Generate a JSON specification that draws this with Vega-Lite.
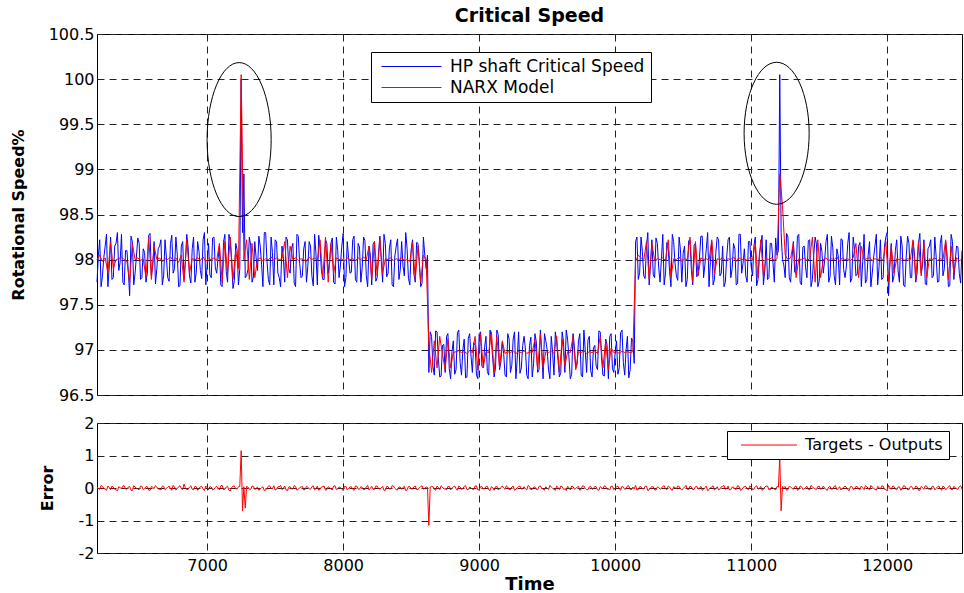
{
"$schema": "https://vega.github.io/schema/vega-lite/v6.json",
"padding": {"left": 9, "top": 6, "right": 0, "bottom": 0},
"background": "white",
"config": {
  "font": "DejaVu Sans",
  "view": {"stroke": "black", "strokeWidth": 1},
  "axis": {"labelFont": "DejaVu Sans", "labelFontSize": 16, "labelColor": "black", "grid": true, "gridColor": "#222222", "gridDash": [7, 5], "gridOpacity": 1, "gridWidth": 1, "domain": false, "ticks": false, "titleFont": "DejaVu Sans", "titleFontWeight": "bold", "titleFontSize": 16, "titleColor": "black", "labelPadding": 3},
  "legend": {"title": null, "symbolType": "M -4 0 L 4 0", "symbolStrokeWidth": 1, "labelFont": "DejaVu Sans", "labelFontSize": 16, "labelColor": "black", "labelLimit": 400, "strokeColor": "black", "fillColor": "white", "padding": 6, "rowPadding": 3}
},
"datasets": {"sig": [
{"t":6190,"hp":97.75,"narx":98.00,"e":0.02},
{"t":6210,"hp":98.22,"narx":98.05,"e":-0.04},
{"t":6230,"hp":97.82,"narx":97.98,"e":0.05},
{"t":6250,"hp":98.15,"narx":98.02,"e":-0.03},
{"t":6270,"hp":97.70,"narx":97.85,"e":0.06},
{"t":6290,"hp":98.25,"narx":98.20,"e":-0.05},
{"t":6310,"hp":97.80,"narx":97.90,"e":0.03},
{"t":6330,"hp":98.18,"narx":98.00,"e":-0.06},
{"t":6350,"hp":97.88,"narx":98.01,"e":0.04},
{"t":6370,"hp":98.28,"narx":98.03,"e":-0.02},
{"t":6390,"hp":97.72,"narx":98.00,"e":0.07},
{"t":6410,"hp":98.10,"narx":97.98,"e":-0.04},
{"t":6430,"hp":97.60,"narx":97.75,"e":0.05},
{"t":6450,"hp":98.20,"narx":98.18,"e":-0.08},
{"t":6470,"hp":97.85,"narx":98.00,"e":0.03},
{"t":6490,"hp":98.24,"narx":98.02,"e":-0.03},
{"t":6510,"hp":97.78,"narx":97.99,"e":0.06},
{"t":6530,"hp":98.12,"narx":98.01,"e":-0.05},
{"t":6550,"hp":97.75,"narx":97.80,"e":0.04},
{"t":6570,"hp":98.27,"narx":98.25,"e":-0.07},
{"t":6590,"hp":97.82,"narx":97.78,"e":0.05},
{"t":6610,"hp":98.20,"narx":98.15,"e":-0.02},
{"t":6630,"hp":97.90,"narx":98.00,"e":0.03},
{"t":6650,"hp":98.15,"narx":98.02,"e":-0.04},
{"t":6670,"hp":97.72,"narx":97.98,"e":0.06},
{"t":6690,"hp":98.22,"narx":98.01,"e":-0.05},
{"t":6710,"hp":97.80,"narx":98.00,"e":0.02},
{"t":6730,"hp":98.18,"narx":98.03,"e":-0.03},
{"t":6750,"hp":97.85,"narx":97.99,"e":0.08},
{"t":6770,"hp":98.25,"narx":98.02,"e":-0.06},
{"t":6790,"hp":97.70,"narx":97.97,"e":0.04},
{"t":6810,"hp":98.15,"narx":98.05,"e":-0.02},
{"t":6830,"hp":97.78,"narx":97.75,"e":0.12},
{"t":6850,"hp":98.28,"narx":98.22,"e":-0.05},
{"t":6870,"hp":97.82,"narx":97.85,"e":0.03},
{"t":6890,"hp":98.12,"narx":98.01,"e":-0.04},
{"t":6910,"hp":97.75,"narx":98.00,"e":0.05},
{"t":6930,"hp":98.20,"narx":98.02,"e":-0.07},
{"t":6950,"hp":97.88,"narx":97.99,"e":0.04},
{"t":6970,"hp":98.22,"narx":98.03,"e":-0.03},
{"t":6990,"hp":97.72,"narx":97.98,"e":0.06},
{"t":7010,"hp":98.18,"narx":98.01,"e":-0.05},
{"t":7030,"hp":97.80,"narx":98.00,"e":0.03},
{"t":7050,"hp":98.25,"narx":98.02,"e":-0.04},
{"t":7070,"hp":97.85,"narx":97.99,"e":0.05},
{"t":7090,"hp":98.15,"narx":98.18,"e":-0.06},
{"t":7110,"hp":97.70,"narx":97.75,"e":0.08},
{"t":7130,"hp":98.28,"narx":98.20,"e":-0.04},
{"t":7150,"hp":97.75,"narx":97.85,"e":0.05},
{"t":7170,"hp":98.20,"narx":98.25,"e":-0.09},
{"t":7190,"hp":97.68,"narx":97.78,"e":0.06},
{"t":7210,"hp":98.18,"narx":98.10,"e":-0.03},
{"t":7230,"hp":97.72,"narx":97.90,"e":0.04},
{"t":7250,"hp":100.00,"narx":100.05,"e":1.15},
{"t":7270,"hp":98.95,"narx":98.00,"e":0.04},
{"t":7290,"hp":97.82,"narx":98.22,"e":0.05},
{"t":7310,"hp":98.25,"narx":97.78,"e":-0.04},
{"t":7330,"hp":97.75,"narx":98.18,"e":0.06},
{"t":7350,"hp":98.20,"narx":97.80,"e":-0.05},
{"t":7370,"hp":97.88,"narx":98.00,"e":0.03},
{"t":7390,"hp":98.15,"narx":98.02,"e":-0.03},
{"t":7410,"hp":97.70,"narx":97.98,"e":0.04},
{"t":7430,"hp":98.30,"narx":98.01,"e":-0.06},
{"t":7450,"hp":97.78,"narx":98.00,"e":0.05},
{"t":7470,"hp":98.25,"narx":98.03,"e":-0.02},
{"t":7490,"hp":97.72,"narx":97.99,"e":0.07},
{"t":7510,"hp":98.20,"narx":98.02,"e":-0.04},
{"t":7530,"hp":97.80,"narx":98.00,"e":0.03},
{"t":7550,"hp":98.15,"narx":98.01,"e":-0.05},
{"t":7570,"hp":97.75,"narx":98.20,"e":0.06},
{"t":7590,"hp":98.22,"narx":97.80,"e":-0.08},
{"t":7610,"hp":97.85,"narx":98.15,"e":0.04},
{"t":7630,"hp":98.18,"narx":98.00,"e":-0.03},
{"t":7650,"hp":97.70,"narx":98.02,"e":0.05},
{"t":7670,"hp":98.26,"narx":97.99,"e":-0.04},
{"t":7690,"hp":97.80,"narx":98.01,"e":0.03},
{"t":7710,"hp":98.12,"narx":98.00,"e":-0.06},
{"t":7730,"hp":97.75,"narx":97.98,"e":0.05},
{"t":7750,"hp":98.20,"narx":98.03,"e":-0.02},
{"t":7770,"hp":97.82,"narx":98.00,"e":0.04},
{"t":7790,"hp":98.28,"narx":98.02,"e":-0.05},
{"t":7810,"hp":97.72,"narx":97.99,"e":0.06},
{"t":7830,"hp":98.15,"narx":98.22,"e":-0.04},
{"t":7850,"hp":97.78,"narx":97.80,"e":0.05},
{"t":7870,"hp":98.22,"narx":98.25,"e":-0.07},
{"t":7890,"hp":97.85,"narx":97.75,"e":0.04},
{"t":7910,"hp":98.18,"narx":98.18,"e":-0.03},
{"t":7930,"hp":97.75,"narx":97.85,"e":0.06},
{"t":7950,"hp":98.25,"narx":98.02,"e":-0.05},
{"t":7970,"hp":97.80,"narx":98.00,"e":0.03},
{"t":7990,"hp":98.15,"narx":98.01,"e":-0.04},
{"t":8010,"hp":97.70,"narx":97.98,"e":0.05},
{"t":8030,"hp":98.20,"narx":98.02,"e":-0.06},
{"t":8050,"hp":97.85,"narx":98.00,"e":0.03},
{"t":8070,"hp":98.22,"narx":98.01,"e":-0.04},
{"t":8090,"hp":97.78,"narx":97.99,"e":0.06},
{"t":8110,"hp":98.18,"narx":98.02,"e":-0.03},
{"t":8130,"hp":97.75,"narx":98.00,"e":0.04},
{"t":8150,"hp":98.25,"narx":98.03,"e":-0.05},
{"t":8170,"hp":97.82,"narx":98.00,"e":0.03},
{"t":8190,"hp":98.15,"narx":98.15,"e":-0.06},
{"t":8210,"hp":97.72,"narx":97.78,"e":0.05},
{"t":8230,"hp":98.20,"narx":98.20,"e":-0.04},
{"t":8250,"hp":97.80,"narx":97.82,"e":0.06},
{"t":8270,"hp":98.26,"narx":98.22,"e":-0.03},
{"t":8290,"hp":97.75,"narx":97.85,"e":0.05},
{"t":8310,"hp":98.18,"narx":98.01,"e":-0.07},
{"t":8330,"hp":97.85,"narx":98.00,"e":0.04},
{"t":8350,"hp":98.22,"narx":98.02,"e":-0.03},
{"t":8370,"hp":97.70,"narx":97.99,"e":0.06},
{"t":8390,"hp":98.15,"narx":98.01,"e":-0.05},
{"t":8410,"hp":97.78,"narx":98.00,"e":0.03},
{"t":8430,"hp":98.20,"narx":98.02,"e":-0.04},
{"t":8450,"hp":97.82,"narx":97.99,"e":0.05},
{"t":8470,"hp":98.12,"narx":98.00,"e":-0.06},
{"t":8490,"hp":97.72,"narx":97.98,"e":0.04},
{"t":8510,"hp":98.22,"narx":98.20,"e":-0.03},
{"t":8530,"hp":97.75,"narx":97.78,"e":0.06},
{"t":8550,"hp":98.18,"narx":98.15,"e":-0.05},
{"t":8570,"hp":97.70,"narx":97.75,"e":0.04},
{"t":8590,"hp":98.25,"narx":98.05,"e":-0.04},
{"t":8610,"hp":97.90,"narx":98.00,"e":0.03},
{"t":8630,"hp":96.75,"narx":97.05,"e":-1.15},
{"t":8650,"hp":97.15,"narx":96.75,"e":0.05},
{"t":8670,"hp":96.72,"narx":97.10,"e":-0.04},
{"t":8690,"hp":97.20,"narx":96.80,"e":0.06},
{"t":8710,"hp":96.70,"narx":97.15,"e":-0.05},
{"t":8730,"hp":97.05,"narx":96.95,"e":0.03},
{"t":8750,"hp":96.75,"narx":96.78,"e":-0.03},
{"t":8770,"hp":97.18,"narx":97.12,"e":0.05},
{"t":8790,"hp":96.68,"narx":96.80,"e":-0.06},
{"t":8810,"hp":97.10,"narx":96.97,"e":0.04},
{"t":8830,"hp":96.78,"narx":96.98,"e":-0.02},
{"t":8850,"hp":97.22,"narx":96.99,"e":0.06},
{"t":8870,"hp":96.72,"narx":96.97,"e":-0.04},
{"t":8890,"hp":97.12,"narx":96.98,"e":0.05},
{"t":8910,"hp":96.70,"narx":96.96,"e":-0.05},
{"t":8930,"hp":97.18,"narx":96.99,"e":0.03},
{"t":8950,"hp":96.75,"narx":96.97,"e":-0.04},
{"t":8970,"hp":97.05,"narx":97.15,"e":0.06},
{"t":8990,"hp":96.68,"narx":96.78,"e":-0.06},
{"t":9010,"hp":97.20,"narx":97.18,"e":0.04},
{"t":9030,"hp":96.80,"narx":96.80,"e":-0.03},
{"t":9050,"hp":97.15,"narx":96.98,"e":0.05},
{"t":9070,"hp":96.72,"narx":96.97,"e":-0.05},
{"t":9090,"hp":97.10,"narx":97.20,"e":0.04},
{"t":9110,"hp":96.70,"narx":96.75,"e":-0.07},
{"t":9130,"hp":97.22,"narx":97.15,"e":0.05},
{"t":9150,"hp":96.78,"narx":96.80,"e":-0.03},
{"t":9170,"hp":97.08,"narx":97.10,"e":0.06},
{"t":9190,"hp":96.72,"narx":96.96,"e":-0.04},
{"t":9210,"hp":97.18,"narx":96.98,"e":0.03},
{"t":9230,"hp":96.75,"narx":96.97,"e":-0.05},
{"t":9250,"hp":97.12,"narx":96.99,"e":0.06},
{"t":9270,"hp":96.68,"narx":96.96,"e":-0.04},
{"t":9290,"hp":97.20,"narx":96.98,"e":0.05},
{"t":9310,"hp":96.80,"narx":96.97,"e":-0.03},
{"t":9330,"hp":97.15,"narx":96.99,"e":0.04},
{"t":9350,"hp":96.72,"narx":96.96,"e":-0.06},
{"t":9370,"hp":97.05,"narx":96.98,"e":0.05},
{"t":9390,"hp":96.70,"narx":96.97,"e":-0.04},
{"t":9410,"hp":97.18,"narx":97.12,"e":0.03},
{"t":9430,"hp":96.75,"narx":96.78,"e":-0.05},
{"t":9450,"hp":97.22,"narx":97.18,"e":0.06},
{"t":9470,"hp":96.68,"narx":96.80,"e":-0.03},
{"t":9490,"hp":97.10,"narx":96.98,"e":0.04},
{"t":9510,"hp":96.78,"narx":96.97,"e":-0.05},
{"t":9530,"hp":97.15,"narx":96.99,"e":0.03},
{"t":9550,"hp":96.72,"narx":96.96,"e":-0.04},
{"t":9570,"hp":97.08,"narx":97.15,"e":0.06},
{"t":9590,"hp":96.70,"narx":96.75,"e":-0.05},
{"t":9610,"hp":97.20,"narx":97.12,"e":0.04},
{"t":9630,"hp":96.75,"narx":96.82,"e":-0.03},
{"t":9650,"hp":97.12,"narx":96.98,"e":0.05},
{"t":9670,"hp":96.68,"narx":96.97,"e":-0.06},
{"t":9690,"hp":97.18,"narx":97.15,"e":0.04},
{"t":9710,"hp":96.80,"narx":96.78,"e":-0.02},
{"t":9730,"hp":97.10,"narx":96.98,"e":0.05},
{"t":9750,"hp":96.72,"narx":96.97,"e":-0.04},
{"t":9770,"hp":97.22,"narx":96.99,"e":0.06},
{"t":9790,"hp":96.75,"narx":96.96,"e":-0.05},
{"t":9810,"hp":97.15,"narx":96.98,"e":0.03},
{"t":9830,"hp":96.70,"narx":96.97,"e":-0.04},
{"t":9850,"hp":97.05,"narx":96.99,"e":0.05},
{"t":9870,"hp":96.78,"narx":96.96,"e":-0.06},
{"t":9890,"hp":97.20,"narx":97.15,"e":0.04},
{"t":9910,"hp":96.72,"narx":96.80,"e":-0.03},
{"t":9930,"hp":97.12,"narx":97.10,"e":0.05},
{"t":9950,"hp":96.68,"narx":96.78,"e":-0.04},
{"t":9970,"hp":97.18,"narx":97.02,"e":0.06},
{"t":9990,"hp":96.75,"narx":96.97,"e":-0.05},
{"t":10010,"hp":97.10,"narx":96.98,"e":0.04},
{"t":10030,"hp":96.80,"narx":96.96,"e":-0.03},
{"t":10050,"hp":97.22,"narx":96.99,"e":0.05},
{"t":10070,"hp":96.72,"narx":96.97,"e":-0.04},
{"t":10090,"hp":97.15,"narx":96.98,"e":0.06},
{"t":10110,"hp":96.78,"narx":96.97,"e":-0.05},
{"t":10130,"hp":97.10,"narx":96.98,"e":0.03},
{"t":10150,"hp":98.20,"narx":97.98,"e":0.08},
{"t":10170,"hp":97.78,"narx":98.05,"e":-0.05},
{"t":10190,"hp":98.25,"narx":98.02,"e":0.04},
{"t":10210,"hp":97.82,"narx":97.99,"e":-0.03},
{"t":10230,"hp":98.15,"narx":98.20,"e":0.06},
{"t":10250,"hp":97.72,"narx":97.78,"e":-0.05},
{"t":10270,"hp":98.22,"narx":98.18,"e":0.04},
{"t":10290,"hp":97.80,"narx":97.99,"e":-0.06},
{"t":10310,"hp":98.18,"narx":98.01,"e":0.03},
{"t":10330,"hp":97.75,"narx":98.00,"e":-0.04},
{"t":10350,"hp":98.28,"narx":98.02,"e":0.05},
{"t":10370,"hp":97.85,"narx":97.99,"e":-0.03},
{"t":10390,"hp":98.12,"narx":98.22,"e":0.06},
{"t":10410,"hp":97.70,"narx":97.80,"e":-0.05},
{"t":10430,"hp":98.20,"narx":98.01,"e":0.04},
{"t":10450,"hp":97.82,"narx":98.00,"e":-0.02},
{"t":10470,"hp":98.25,"narx":98.03,"e":0.05},
{"t":10490,"hp":97.75,"narx":97.98,"e":-0.06},
{"t":10510,"hp":98.15,"narx":98.01,"e":0.03},
{"t":10530,"hp":97.78,"narx":98.00,"e":-0.04},
{"t":10550,"hp":98.22,"narx":98.25,"e":0.06},
{"t":10570,"hp":97.72,"narx":97.75,"e":-0.05},
{"t":10590,"hp":98.18,"narx":98.20,"e":0.04},
{"t":10610,"hp":97.85,"narx":97.82,"e":-0.03},
{"t":10630,"hp":98.26,"narx":98.02,"e":0.05},
{"t":10650,"hp":97.80,"narx":98.00,"e":-0.04},
{"t":10670,"hp":98.12,"narx":98.01,"e":0.06},
{"t":10690,"hp":97.70,"narx":97.99,"e":-0.05},
{"t":10710,"hp":98.20,"narx":98.22,"e":0.03},
{"t":10730,"hp":97.78,"narx":97.85,"e":-0.06},
{"t":10750,"hp":98.25,"narx":98.01,"e":0.04},
{"t":10770,"hp":97.82,"narx":98.00,"e":-0.03},
{"t":10790,"hp":98.15,"narx":98.02,"e":0.05},
{"t":10810,"hp":97.75,"narx":97.99,"e":-0.04},
{"t":10830,"hp":98.22,"narx":98.01,"e":0.06},
{"t":10850,"hp":97.80,"narx":98.00,"e":-0.05},
{"t":10870,"hp":98.18,"narx":98.03,"e":0.03},
{"t":10890,"hp":97.72,"narx":97.98,"e":-0.04},
{"t":10910,"hp":98.28,"narx":98.02,"e":0.05},
{"t":10930,"hp":97.85,"narx":98.00,"e":-0.06},
{"t":10950,"hp":98.12,"narx":98.01,"e":0.04},
{"t":10970,"hp":97.75,"narx":97.99,"e":-0.03},
{"t":10990,"hp":98.20,"narx":98.02,"e":0.06},
{"t":11010,"hp":97.82,"narx":98.00,"e":-0.05},
{"t":11030,"hp":98.25,"narx":98.18,"e":0.04},
{"t":11050,"hp":97.78,"narx":97.80,"e":-0.03},
{"t":11070,"hp":98.15,"narx":98.22,"e":0.05},
{"t":11090,"hp":97.72,"narx":97.82,"e":-0.04},
{"t":11110,"hp":98.22,"narx":98.01,"e":0.06},
{"t":11130,"hp":97.80,"narx":98.00,"e":-0.05},
{"t":11150,"hp":98.18,"narx":98.02,"e":0.03},
{"t":11170,"hp":97.75,"narx":97.99,"e":-0.04},
{"t":11190,"hp":98.05,"narx":98.01,"e":0.05},
{"t":11210,"hp":100.05,"narx":98.95,"e":0.95},
{"t":11230,"hp":98.00,"narx":98.60,"e":0.04},
{"t":11250,"hp":97.80,"narx":98.05,"e":0.04},
{"t":11270,"hp":98.25,"narx":98.00,"e":-0.05},
{"t":11290,"hp":97.75,"narx":98.02,"e":0.03},
{"t":11310,"hp":98.20,"narx":98.18,"e":-0.04},
{"t":11330,"hp":97.85,"narx":97.80,"e":0.06},
{"t":11350,"hp":98.28,"narx":98.01,"e":-0.05},
{"t":11370,"hp":97.72,"narx":98.00,"e":0.04},
{"t":11390,"hp":98.15,"narx":98.02,"e":-0.03},
{"t":11410,"hp":97.80,"narx":97.99,"e":0.05},
{"t":11430,"hp":98.22,"narx":98.01,"e":-0.06},
{"t":11450,"hp":97.78,"narx":98.25,"e":0.04},
{"t":11470,"hp":98.25,"narx":97.75,"e":-0.03},
{"t":11490,"hp":97.70,"narx":98.22,"e":0.05},
{"t":11510,"hp":98.18,"narx":97.80,"e":-0.04},
{"t":11530,"hp":97.85,"narx":98.00,"e":0.06},
{"t":11550,"hp":98.20,"narx":98.02,"e":-0.05},
{"t":11570,"hp":97.75,"narx":97.99,"e":0.03},
{"t":11590,"hp":98.26,"narx":98.01,"e":-0.04},
{"t":11610,"hp":97.82,"narx":98.00,"e":0.05},
{"t":11630,"hp":98.12,"narx":98.03,"e":-0.06},
{"t":11650,"hp":97.72,"narx":97.98,"e":0.04},
{"t":11670,"hp":98.22,"narx":98.02,"e":-0.03},
{"t":11690,"hp":97.80,"narx":98.00,"e":0.06},
{"t":11710,"hp":98.18,"narx":98.01,"e":-0.05},
{"t":11730,"hp":97.75,"narx":97.99,"e":0.04},
{"t":11750,"hp":98.25,"narx":98.02,"e":-0.04},
{"t":11770,"hp":97.82,"narx":98.18,"e":0.05},
{"t":11790,"hp":98.15,"narx":97.80,"e":-0.03},
{"t":11810,"hp":97.70,"narx":98.15,"e":0.06},
{"t":11830,"hp":98.28,"narx":98.00,"e":-0.05},
{"t":11850,"hp":97.78,"narx":98.01,"e":0.04},
{"t":11870,"hp":98.20,"narx":98.02,"e":-0.06},
{"t":11890,"hp":97.85,"narx":97.99,"e":0.03},
{"t":11910,"hp":98.15,"narx":98.01,"e":-0.04},
{"t":11930,"hp":97.72,"narx":98.00,"e":0.05},
{"t":11950,"hp":98.22,"narx":98.02,"e":-0.03},
{"t":11970,"hp":97.80,"narx":97.99,"e":0.06},
{"t":11990,"hp":98.25,"narx":98.20,"e":-0.05},
{"t":12010,"hp":97.60,"narx":97.75,"e":0.08},
{"t":12030,"hp":98.18,"narx":98.15,"e":-0.04},
{"t":12050,"hp":97.82,"narx":97.85,"e":0.05},
{"t":12070,"hp":98.22,"narx":98.01,"e":-0.06},
{"t":12090,"hp":97.75,"narx":98.00,"e":0.04},
{"t":12110,"hp":98.15,"narx":98.02,"e":-0.03},
{"t":12130,"hp":97.70,"narx":97.99,"e":0.06},
{"t":12150,"hp":98.26,"narx":98.01,"e":-0.05},
{"t":12170,"hp":97.80,"narx":98.00,"e":0.04},
{"t":12190,"hp":98.20,"narx":98.22,"e":-0.04},
{"t":12210,"hp":97.75,"narx":97.78,"e":0.06},
{"t":12230,"hp":98.18,"narx":98.20,"e":-0.07},
{"t":12250,"hp":97.85,"narx":97.82,"e":0.05},
{"t":12270,"hp":98.22,"narx":98.18,"e":-0.04},
{"t":12290,"hp":97.72,"narx":97.80,"e":0.06},
{"t":12310,"hp":98.15,"narx":98.01,"e":-0.03},
{"t":12330,"hp":97.80,"narx":98.00,"e":0.05},
{"t":12350,"hp":98.25,"narx":98.02,"e":-0.06},
{"t":12370,"hp":97.75,"narx":97.99,"e":0.04},
{"t":12390,"hp":98.18,"narx":98.01,"e":-0.03},
{"t":12410,"hp":97.82,"narx":98.00,"e":0.06},
{"t":12430,"hp":98.20,"narx":98.22,"e":-0.05},
{"t":12450,"hp":97.70,"narx":97.78,"e":0.04},
{"t":12470,"hp":98.28,"narx":98.15,"e":-0.04},
{"t":12490,"hp":97.78,"narx":97.85,"e":0.05},
{"t":12510,"hp":98.15,"narx":98.02,"e":-0.03},
{"t":12530,"hp":97.85,"narx":97.99,"e":0.04},
{"t":12550,"hp":98.10,"narx":98.00,"e":-0.02},
{"t":6200,"hp":98.05,"e":-0.01},{"t":6220,"hp":97.70,"e":0.08},{"t":6240,"hp":98.02,"e":-0.01},{"t":6260,"hp":98.28,"e":-0.07},
{"t":6280,"hp":97.92,"e":0.02},{"t":6300,"hp":97.78,"e":0.06},{"t":6320,"hp":98.15,"e":-0.04},{"t":6340,"hp":98.30,"e":-0.08},
{"t":6360,"hp":97.97,"e":0.01},{"t":6380,"hp":97.75,"e":0.06},{"t":6400,"hp":98.10,"e":-0.03},{"t":6420,"hp":97.88,"e":0.03},
{"t":6440,"hp":98.26,"e":-0.07},{"t":6460,"hp":97.72,"e":0.07},{"t":6480,"hp":98.04,"e":-0.01},{"t":6500,"hp":98.18,"e":-0.05},
{"t":6520,"hp":97.80,"e":0.05},{"t":6540,"hp":98.08,"e":-0.02},{"t":6560,"hp":97.85,"e":0.04},{"t":6580,"hp":98.29,"e":-0.07},
{"t":6600,"hp":97.94,"e":0.02},{"t":6620,"hp":97.73,"e":0.07},{"t":6640,"hp":98.12,"e":-0.03},{"t":6660,"hp":98.22,"e":-0.06},
{"t":6680,"hp":97.82,"e":0.05},{"t":6700,"hp":98.03,"e":-0.01},{"t":6720,"hp":97.76,"e":0.06},{"t":6740,"hp":98.27,"e":-0.07},
{"t":6760,"hp":97.90,"e":0.03},{"t":6780,"hp":98.06,"e":-0.02},{"t":6800,"hp":97.71,"e":0.07},{"t":6820,"hp":98.20,"e":-0.05},
{"t":6840,"hp":97.98,"e":0.01},{"t":6860,"hp":98.14,"e":-0.04},{"t":6880,"hp":97.74,"e":0.07},{"t":6900,"hp":98.25,"e":-0.06},
{"t":6920,"hp":97.86,"e":0.04},{"t":6940,"hp":98.09,"e":-0.02},{"t":6960,"hp":97.79,"e":0.05},{"t":6980,"hp":98.30,"e":-0.08},
{"t":7000,"hp":97.95,"e":0.01},{"t":7020,"hp":97.83,"e":0.04},{"t":7040,"hp":98.24,"e":-0.06},{"t":7060,"hp":97.91,"e":0.02},
{"t":7080,"hp":98.01,"e":0.00},{"t":7100,"hp":97.72,"e":0.07},{"t":7120,"hp":98.19,"e":-0.05},{"t":7140,"hp":97.87,"e":0.03},
{"t":7160,"hp":98.28,"e":-0.07},{"t":7180,"hp":97.96,"e":0.01},{"t":7200,"hp":97.77,"e":0.06},{"t":7220,"hp":98.11,"e":-0.03},
{"t":7240,"hp":97.90,"e":0.05},{"t":7260,"hp":98.30,"e":-0.70},{"t":7280,"hp":97.80,"e":-0.62},{"t":7300,"hp":97.89,"e":0.03},
{"t":7320,"hp":98.16,"e":-0.04},{"t":7340,"hp":97.81,"e":0.05},{"t":7360,"hp":98.02,"e":-0.01},{"t":7380,"hp":98.26,"e":-0.07},
{"t":7400,"hp":97.95,"e":0.01},{"t":7420,"hp":98.30,"e":-0.08},{"t":7440,"hp":97.98,"e":0.01},{"t":7460,"hp":97.72,"e":0.07},
{"t":7480,"hp":98.08,"e":-0.02},{"t":7500,"hp":98.22,"e":-0.06},{"t":7520,"hp":97.85,"e":0.04},{"t":7540,"hp":97.70,"e":0.08},
{"t":7560,"hp":98.03,"e":-0.01},{"t":7580,"hp":98.25,"e":-0.06},{"t":7600,"hp":97.90,"e":0.03},{"t":7620,"hp":98.12,"e":-0.03},
{"t":7640,"hp":97.74,"e":0.07},{"t":7660,"hp":98.28,"e":-0.07},{"t":7680,"hp":97.96,"e":0.01},{"t":7700,"hp":97.82,"e":0.05},
{"t":7720,"hp":98.20,"e":-0.05},{"t":7740,"hp":97.92,"e":0.02},{"t":7760,"hp":98.15,"e":-0.04},{"t":7780,"hp":97.71,"e":0.07},
{"t":7800,"hp":98.06,"e":-0.02},{"t":7820,"hp":98.27,"e":-0.07},{"t":7840,"hp":97.88,"e":0.03},{"t":7860,"hp":97.78,"e":0.06},
{"t":7880,"hp":98.18,"e":-0.05},{"t":7900,"hp":97.97,"e":0.01},{"t":7920,"hp":98.24,"e":-0.06},{"t":7940,"hp":97.73,"e":0.07},
{"t":7960,"hp":98.10,"e":-0.03},{"t":7980,"hp":97.94,"e":0.02},{"t":8000,"hp":98.29,"e":-0.07},{"t":8020,"hp":97.80,"e":0.05},
{"t":8040,"hp":98.02,"e":-0.01},{"t":8060,"hp":97.86,"e":0.04},{"t":8080,"hp":98.26,"e":-0.07},{"t":8100,"hp":97.75,"e":0.06},
{"t":8120,"hp":98.14,"e":-0.04},{"t":8140,"hp":97.91,"e":0.02},{"t":8160,"hp":98.21,"e":-0.05},{"t":8180,"hp":97.70,"e":0.08},
{"t":8200,"hp":98.05,"e":-0.01},{"t":8220,"hp":98.17,"e":-0.04},{"t":8240,"hp":97.76,"e":0.06},{"t":8260,"hp":98.09,"e":-0.02},
{"t":8280,"hp":97.99,"e":0.00},{"t":8300,"hp":98.28,"e":-0.07},{"t":8320,"hp":97.81,"e":0.05},{"t":8340,"hp":98.13,"e":-0.03},
{"t":8360,"hp":97.72,"e":0.07},{"t":8380,"hp":98.04,"e":-0.01},{"t":8400,"hp":98.23,"e":-0.06},{"t":8420,"hp":97.89,"e":0.03},
{"t":8440,"hp":97.93,"e":0.02},{"t":8460,"hp":98.30,"e":-0.08},{"t":8480,"hp":97.79,"e":0.05},{"t":8500,"hp":98.11,"e":-0.03},
{"t":8520,"hp":97.84,"e":0.04},{"t":8540,"hp":98.19,"e":-0.05},{"t":8560,"hp":97.98,"e":0.01},{"t":8580,"hp":97.74,"e":0.07},
{"t":8600,"hp":98.05,"e":-0.01},{"t":8620,"hp":98.05,"e":0.02},{"t":8640,"hp":97.20,"e":0.03},{"t":8660,"hp":96.82,"e":0.04},
{"t":8680,"hp":97.21,"e":-0.07},{"t":8700,"hp":96.90,"e":0.02},{"t":8720,"hp":96.71,"e":0.07},{"t":8740,"hp":97.06,"e":-0.03},
{"t":8760,"hp":97.15,"e":-0.06},{"t":8780,"hp":96.79,"e":0.05},{"t":8800,"hp":96.98,"e":-0.01},{"t":8820,"hp":96.73,"e":0.06},
{"t":8840,"hp":97.19,"e":-0.07},{"t":8860,"hp":96.86,"e":0.03},{"t":8880,"hp":97.00,"e":-0.02},{"t":8900,"hp":96.69,"e":0.07},
{"t":8920,"hp":97.13,"e":-0.05},{"t":8940,"hp":96.93,"e":0.01},{"t":8960,"hp":97.08,"e":-0.04},{"t":8980,"hp":96.72,"e":0.07},
{"t":9000,"hp":97.18,"e":-0.06},{"t":9020,"hp":96.82,"e":0.04},{"t":9040,"hp":97.03,"e":-0.02},{"t":9060,"hp":96.76,"e":0.05},
{"t":9080,"hp":97.22,"e":-0.08},{"t":9100,"hp":96.90,"e":0.01},{"t":9120,"hp":96.80,"e":0.04},{"t":9140,"hp":97.17,"e":-0.06},
{"t":9160,"hp":96.87,"e":0.02},{"t":9180,"hp":96.96,"e":0.00},{"t":9200,"hp":96.70,"e":0.07},{"t":9220,"hp":97.12,"e":-0.05},
{"t":9240,"hp":96.83,"e":0.03},{"t":9260,"hp":97.20,"e":-0.07},{"t":9280,"hp":96.91,"e":0.01},{"t":9300,"hp":96.74,"e":0.06},
{"t":9320,"hp":97.05,"e":-0.03},{"t":9340,"hp":97.01,"e":-0.02},{"t":9360,"hp":96.68,"e":0.08},{"t":9380,"hp":97.14,"e":-0.05},
{"t":9400,"hp":96.85,"e":0.03},{"t":9420,"hp":97.09,"e":-0.04},{"t":9440,"hp":96.78,"e":0.05},{"t":9460,"hp":96.97,"e":-0.01},
{"t":9480,"hp":97.18,"e":-0.07},{"t":9500,"hp":97.00,"e":-0.01},{"t":9520,"hp":96.68,"e":0.08},{"t":9540,"hp":96.97,"e":-0.01},
{"t":9560,"hp":97.20,"e":-0.07},{"t":9580,"hp":96.88,"e":0.02},{"t":9600,"hp":96.75,"e":0.06},{"t":9620,"hp":97.09,"e":-0.04},
{"t":9640,"hp":97.22,"e":-0.08},{"t":9660,"hp":96.92,"e":0.01},{"t":9680,"hp":96.73,"e":0.06},{"t":9700,"hp":97.04,"e":-0.03},
{"t":9720,"hp":96.84,"e":0.03},{"t":9740,"hp":97.18,"e":-0.07},{"t":9760,"hp":96.70,"e":0.07},{"t":9780,"hp":96.99,"e":-0.01},
{"t":9800,"hp":97.11,"e":-0.05},{"t":9820,"hp":96.77,"e":0.05},{"t":9840,"hp":97.02,"e":-0.02},{"t":9860,"hp":96.82,"e":0.04},
{"t":9880,"hp":97.21,"e":-0.07},{"t":9900,"hp":96.90,"e":0.02},{"t":9920,"hp":96.71,"e":0.07},{"t":9940,"hp":97.06,"e":-0.03},
{"t":9960,"hp":97.15,"e":-0.06},{"t":9980,"hp":96.79,"e":0.05},{"t":10000,"hp":96.98,"e":-0.01},{"t":10020,"hp":96.73,"e":0.06},
{"t":10040,"hp":97.19,"e":-0.07},{"t":10060,"hp":96.86,"e":0.03},{"t":10080,"hp":97.00,"e":-0.02},{"t":10100,"hp":96.69,"e":0.07},
{"t":10120,"hp":97.13,"e":-0.05},{"t":10140,"hp":96.85,"e":-0.03},{"t":10160,"hp":98.25,"e":-0.06},{"t":10180,"hp":97.86,"e":0.04},
{"t":10200,"hp":98.09,"e":-0.02},{"t":10220,"hp":97.79,"e":0.05},{"t":10240,"hp":98.30,"e":-0.08},{"t":10260,"hp":97.95,"e":0.01},
{"t":10280,"hp":97.83,"e":0.04},{"t":10300,"hp":98.24,"e":-0.06},{"t":10320,"hp":97.91,"e":0.02},{"t":10340,"hp":98.01,"e":0.00},
{"t":10360,"hp":97.72,"e":0.07},{"t":10380,"hp":98.19,"e":-0.05},{"t":10400,"hp":97.87,"e":0.03},{"t":10420,"hp":98.28,"e":-0.07},
{"t":10440,"hp":97.96,"e":0.01},{"t":10460,"hp":97.77,"e":0.06},{"t":10480,"hp":98.11,"e":-0.03},{"t":10500,"hp":98.07,"e":-0.02},
{"t":10520,"hp":97.70,"e":0.08},{"t":10540,"hp":98.21,"e":-0.05},{"t":10560,"hp":97.89,"e":0.03},{"t":10580,"hp":98.16,"e":-0.04},
{"t":10600,"hp":97.81,"e":0.05},{"t":10620,"hp":98.02,"e":-0.01},{"t":10640,"hp":98.26,"e":-0.07},{"t":10660,"hp":97.95,"e":0.01},
{"t":10680,"hp":98.30,"e":-0.08},{"t":10700,"hp":97.98,"e":0.01},{"t":10720,"hp":97.72,"e":0.07},{"t":10740,"hp":98.08,"e":-0.02},
{"t":10760,"hp":98.22,"e":-0.06},{"t":10780,"hp":97.85,"e":0.04},{"t":10800,"hp":97.70,"e":0.08},{"t":10820,"hp":98.03,"e":-0.01},
{"t":10840,"hp":98.25,"e":-0.06},{"t":10860,"hp":97.90,"e":0.03},{"t":10880,"hp":98.12,"e":-0.03},{"t":10900,"hp":97.74,"e":0.07},
{"t":10920,"hp":98.28,"e":-0.07},{"t":10940,"hp":97.96,"e":0.01},{"t":10960,"hp":97.82,"e":0.05},{"t":10980,"hp":98.20,"e":-0.05},
{"t":11000,"hp":97.92,"e":0.02},{"t":11020,"hp":98.15,"e":-0.04},{"t":11040,"hp":97.71,"e":0.07},{"t":11060,"hp":98.06,"e":-0.02},
{"t":11080,"hp":98.27,"e":-0.07},{"t":11100,"hp":97.88,"e":0.03},{"t":11120,"hp":97.78,"e":0.06},{"t":11140,"hp":98.18,"e":-0.05},
{"t":11160,"hp":97.97,"e":0.01},{"t":11180,"hp":98.24,"e":-0.06},{"t":11200,"hp":98.10,"e":0.02},{"t":11220,"hp":98.30,"e":-0.70},
{"t":11240,"hp":97.94,"e":0.02},{"t":11260,"hp":98.29,"e":-0.07},{"t":11280,"hp":97.80,"e":0.05},{"t":11300,"hp":98.02,"e":-0.01},
{"t":11320,"hp":97.86,"e":0.04},{"t":11340,"hp":98.26,"e":-0.07},{"t":11360,"hp":97.75,"e":0.06},{"t":11380,"hp":98.14,"e":-0.04},
{"t":11400,"hp":97.91,"e":0.02},{"t":11420,"hp":98.21,"e":-0.05},{"t":11440,"hp":97.70,"e":0.08},{"t":11460,"hp":98.05,"e":-0.01},
{"t":11480,"hp":98.17,"e":-0.04},{"t":11500,"hp":97.76,"e":0.06},{"t":11520,"hp":98.09,"e":-0.02},{"t":11540,"hp":97.99,"e":0.00},
{"t":11560,"hp":98.28,"e":-0.07},{"t":11580,"hp":97.81,"e":0.05},{"t":11600,"hp":98.13,"e":-0.03},{"t":11620,"hp":97.72,"e":0.07},
{"t":11640,"hp":98.04,"e":-0.01},{"t":11660,"hp":98.23,"e":-0.06},{"t":11680,"hp":97.89,"e":0.03},{"t":11700,"hp":97.93,"e":0.02},
{"t":11720,"hp":98.30,"e":-0.08},{"t":11740,"hp":97.79,"e":0.05},{"t":11760,"hp":98.11,"e":-0.03},{"t":11780,"hp":97.84,"e":0.04},
{"t":11800,"hp":98.19,"e":-0.05},{"t":11820,"hp":97.98,"e":0.01},{"t":11840,"hp":97.74,"e":0.07},{"t":11860,"hp":98.05,"e":-0.01},
{"t":11880,"hp":97.70,"e":0.08},{"t":11900,"hp":98.02,"e":-0.01},{"t":11920,"hp":98.28,"e":-0.07},{"t":11940,"hp":97.92,"e":0.02},
{"t":11960,"hp":97.78,"e":0.06},{"t":11980,"hp":98.15,"e":-0.04},{"t":12000,"hp":98.30,"e":-0.08},{"t":12020,"hp":97.97,"e":0.01},
{"t":12040,"hp":97.75,"e":0.06},{"t":12060,"hp":98.10,"e":-0.03},{"t":12080,"hp":97.88,"e":0.03},{"t":12100,"hp":98.26,"e":-0.07},
{"t":12120,"hp":97.72,"e":0.07},{"t":12140,"hp":98.04,"e":-0.01},{"t":12160,"hp":98.18,"e":-0.05},{"t":12180,"hp":97.80,"e":0.05},
{"t":12200,"hp":98.08,"e":-0.02},{"t":12220,"hp":97.85,"e":0.04},{"t":12240,"hp":98.29,"e":-0.07},{"t":12260,"hp":97.94,"e":0.02},
{"t":12280,"hp":97.73,"e":0.07},{"t":12300,"hp":98.12,"e":-0.03},{"t":12320,"hp":98.22,"e":-0.06},{"t":12340,"hp":97.82,"e":0.05},
{"t":12360,"hp":98.03,"e":-0.01},{"t":12380,"hp":97.76,"e":0.06},{"t":12400,"hp":98.27,"e":-0.07},{"t":12420,"hp":97.90,"e":0.03},
{"t":12440,"hp":98.06,"e":-0.02},{"t":12460,"hp":97.71,"e":0.07},{"t":12480,"hp":98.20,"e":-0.05},{"t":12500,"hp":97.98,"e":0.01},
{"t":12520,"hp":98.14,"e":-0.04},{"t":12540,"hp":97.74,"e":0.07}
]},
"spacing": 10,
"resolve": {"scale": {"color": "independent"}, "legend": {"color": "independent"}},
"vconcat": [
  {
    "width": 865,
    "height": 361,
    "title": {"text": "Critical Speed", "fontSize": 19, "fontWeight": "bold", "font": "DejaVu Sans", "color": "black", "anchor": "middle", "frame": "group", "offset": 0},
    "data": {"name": "sig"},
    "layer": [
      {
        "mark": {"type": "line", "strokeWidth": 1, "invalid": "filter"},
        "encoding": {
          "x": {"field": "t", "type": "quantitative", "scale": {"domain": [6190, 12550], "nice": false, "zero": false}, "axis": {"values": [7000, 8000, 9000, 10000, 11000, 12000], "labels": false, "title": null}},
          "y": {"field": "hp", "type": "quantitative", "scale": {"domain": [96.5, 100.5], "nice": false, "zero": false}, "axis": {"values": [96.5, 97, 97.5, 98, 98.5, 99, 99.5, 100, 100.5], "format": "~g", "title": "Rotational Speed%", "titlePadding": 22}},
          "color": {"datum": "HP shaft Critical Speed", "type": "nominal", "scale": {"domain": ["HP shaft Critical Speed", "NARX Model"], "range": ["#0000ff", "#ff0000"]}, "legend": {"orient": "none", "legendX": 274, "legendY": 18, "symbolSize": 225, "symbolOffset": 26, "labelOffset": 30, "labelFontSize": 17}}
        }
      },
      {
        "mark": {"type": "line", "strokeWidth": 1, "invalid": "filter"},
        "encoding": {
          "x": {"field": "t", "type": "quantitative"},
          "y": {"field": "narx", "type": "quantitative"},
          "color": {"datum": "NARX Model", "type": "nominal"}
        }
      },
      {
        "data": {"values": [{"t": 7235, "hp": 99.33}]},
        "mark": {"type": "point", "shape": "M -0.416 0 A 0.416 1 0 1 0 0.416 0 A 0.416 1 0 1 0 -0.416 0 Z", "size": 23716, "filled": false, "stroke": "black", "strokeWidth": 1, "opacity": 1},
        "encoding": {"x": {"field": "t", "type": "quantitative"}, "y": {"field": "hp", "type": "quantitative"}}
      },
      {
        "data": {"values": [{"t": 11187, "hp": 99.40}]},
        "mark": {"type": "point", "shape": "M -0.458 0 A 0.458 1 0 1 0 0.458 0 A 0.458 1 0 1 0 -0.458 0 Z", "size": 20164, "filled": false, "stroke": "black", "strokeWidth": 1, "opacity": 1},
        "encoding": {"x": {"field": "t", "type": "quantitative"}, "y": {"field": "hp", "type": "quantitative"}}
      }
    ]
  },
  {
    "width": 865,
    "height": 130,
    "data": {"name": "sig"},
    "mark": {"type": "line", "strokeWidth": 1, "invalid": "filter"},
    "encoding": {
      "x": {"field": "t", "type": "quantitative", "scale": {"domain": [6190, 12550], "nice": false, "zero": false}, "axis": {"values": [7000, 8000, 9000, 10000, 11000, 12000], "format": "d", "title": "Time", "titleFontSize": 18, "titlePadding": 2, "labelPadding": 4}},
      "y": {"field": "e", "type": "quantitative", "scale": {"domain": [-2, 2], "nice": false}, "axis": {"values": [-2, -1, 0, 1, 2], "labelExpr": "'' + datum.value", "title": "Error", "titlePadding": 23}},
      "color": {"datum": "Targets - Outputs", "type": "nominal", "scale": {"domain": ["Targets - Outputs"], "range": ["#ff0000"]}, "legend": {"orient": "none", "legendX": 630, "legendY": 8, "symbolSize": 196, "symbolOffset": 28, "labelOffset": 28}}
    }
  }
]
}
